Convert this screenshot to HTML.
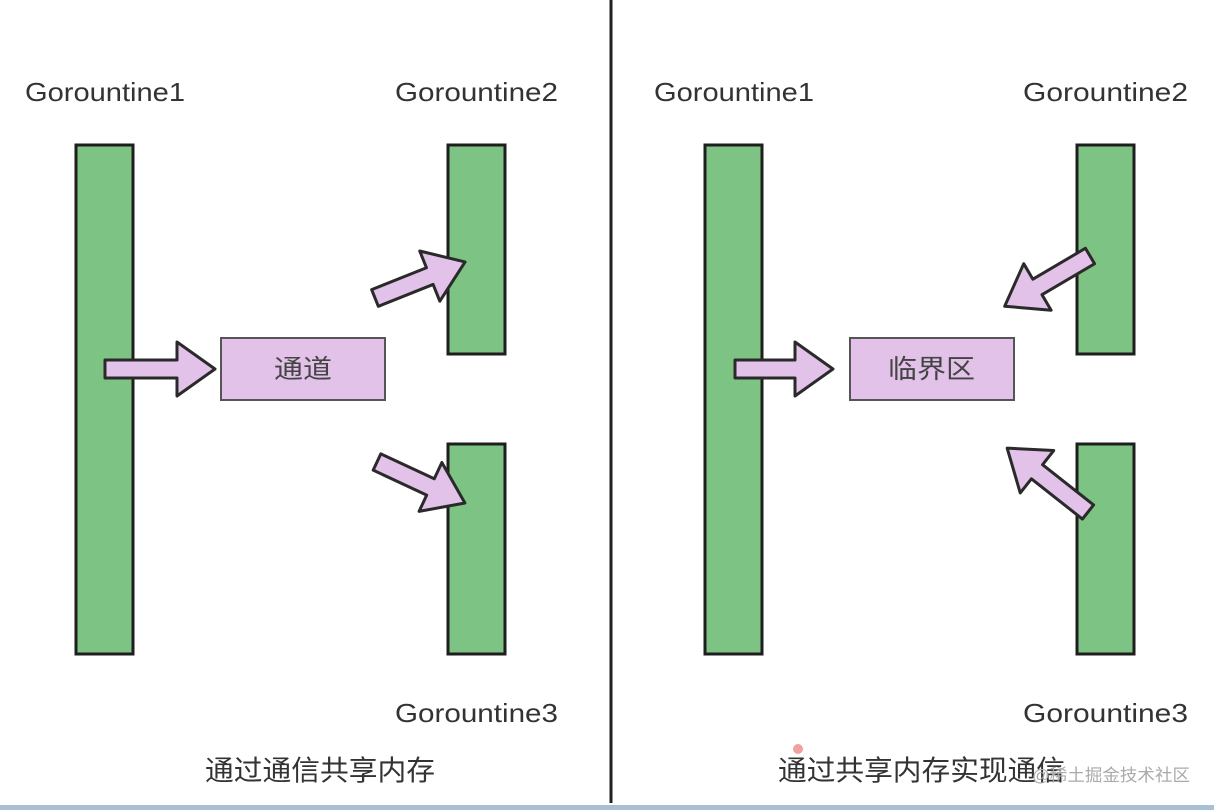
<!DOCTYPE html>
<html><head><meta charset="utf-8"><style>
html,body{margin:0;padding:0;background:#fff;}
svg{display:block;}
text{font-family:"Liberation Sans","Noto Sans CJK SC",sans-serif;}
</style></head><body>
<svg width="1214" height="810" viewBox="0 0 1214 810" xmlns="http://www.w3.org/2000/svg">
<rect x="0" y="0" width="1214" height="810" fill="#fff"/>
<line x1="611" y1="0" x2="611" y2="803" stroke="#222" stroke-width="3"/>
<rect x="0" y="805" width="1214" height="5" fill="#a9bfd3"/>
<g fill="#7dc383" stroke="#1e1e1e" stroke-width="3">
<rect x="76" y="145" width="57" height="509"/>
<rect x="448" y="145" width="57" height="209"/>
<rect x="448" y="444" width="57" height="210"/>
<rect x="705" y="145" width="57" height="509"/>
<rect x="1077" y="145" width="57" height="209"/>
<rect x="1077" y="444" width="57" height="210"/>
</g>
<g fill="#e2c2e8" stroke="#555" stroke-width="2">
<rect x="221" y="338" width="164" height="62"/>
<rect x="850" y="338" width="164" height="62"/>
</g>
<g fill="#e2c2e8" stroke="#2a2a2a" stroke-width="3" stroke-linejoin="round">
<polygon transform="translate(105,369)" points="0,-9 72,-9 72,-27 110,0 72,27 72,9 0,9"/>
<polygon transform="translate(375,298) rotate(-21.8)" points="0,-9 59,-9 59,-27 97,0 59,27 59,9 0,9"/>
<polygon transform="translate(377,462) rotate(25)" points="0,-9 59,-9 59,-27 97,0 59,27 59,9 0,9"/>
<polygon transform="translate(735,369)" points="0,-9 60,-9 60,-27 98,0 60,27 60,9 0,9"/>
<polygon transform="translate(1090,256) rotate(149.5)" points="0,-9 61,-9 61,-27 99,0 61,27 61,9 0,9"/>
<polygon transform="translate(1088,512) rotate(218.3)" points="0,-9 65,-9 65,-27 103,0 65,27 65,9 0,9"/>
</g>
<g font-size="26" fill="#333" lengthAdjust="spacingAndGlyphs">
<text x="25" y="101" textLength="160" lengthAdjust="spacingAndGlyphs">Gorountine1</text>
<text x="395" y="101" textLength="163" lengthAdjust="spacingAndGlyphs">Gorountine2</text>
<text x="395" y="722" textLength="163" lengthAdjust="spacingAndGlyphs">Gorountine3</text>
<text x="654" y="101" textLength="160" lengthAdjust="spacingAndGlyphs">Gorountine1</text>
<text x="1023" y="101" textLength="165" lengthAdjust="spacingAndGlyphs">Gorountine2</text>
<text x="1023" y="722" textLength="165" lengthAdjust="spacingAndGlyphs">Gorountine3</text>
</g>
<g font-size="26" fill="#444">
<text x="274" y="378" textLength="58" lengthAdjust="spacingAndGlyphs">通道</text>
<text x="888" y="378" textLength="87" lengthAdjust="spacingAndGlyphs">临界区</text>
</g>
<g font-size="28" fill="#333">
<text x="205" y="780" textLength="230" lengthAdjust="spacingAndGlyphs">通过通信共享内存</text>
<text x="778" y="780" textLength="287" lengthAdjust="spacingAndGlyphs">通过共享内存实现通信</text>
</g>
<circle cx="798" cy="749" r="5" fill="#e88" opacity="0.8"/>
<text x="1032" y="781" font-size="17" fill="#aaa" textLength="158" lengthAdjust="spacingAndGlyphs">@稀土掘金技术社区</text>
</svg>
</body></html>
